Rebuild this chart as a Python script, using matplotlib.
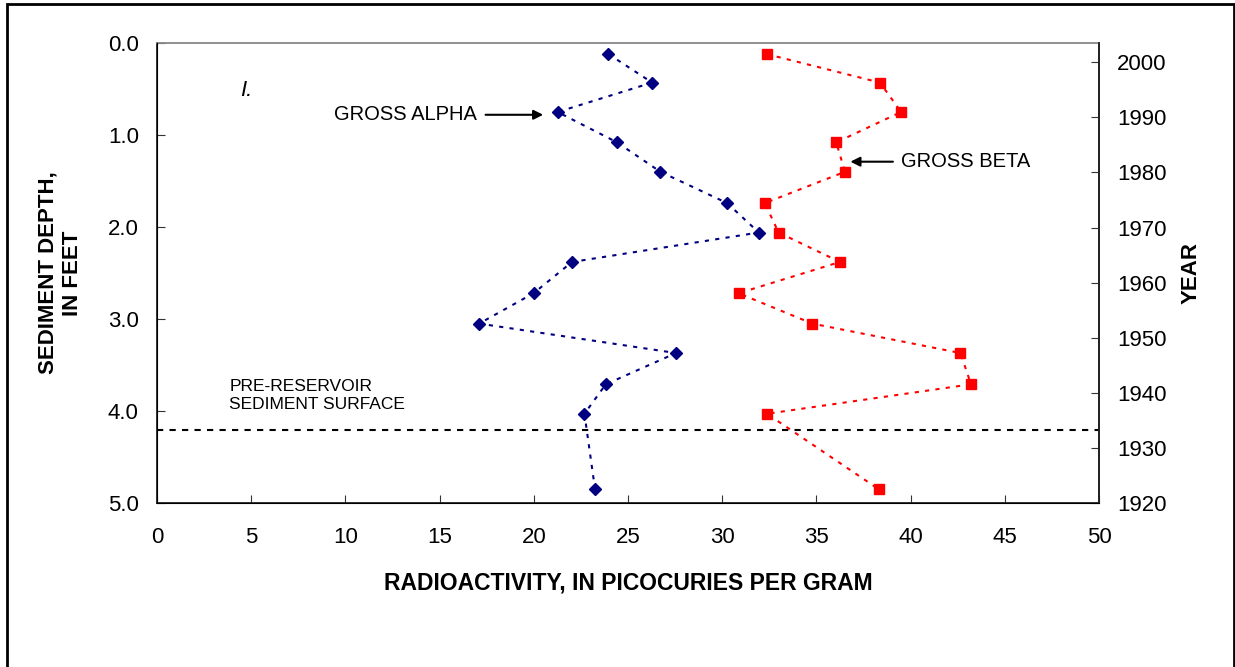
import numpy as np
import matplotlib
matplotlib.use("Agg")
import matplotlib.pyplot as plt
from matplotlib.patches import Rectangle

plt.rcParams['font.family'] = ['Liberation Sans', 'DejaVu Sans']

# depth of each sample, in feet
depth = [0.12, 0.43, 0.75, 1.08, 1.40, 1.74, 2.06, 2.38, 2.72, 3.05, 3.37, 3.71, 4.03, 4.85]
gross_alpha = [23.96, 26.28, 21.27, 24.42, 26.72, 30.26, 31.94, 22.03, 19.99, 17.10, 27.55, 23.82, 22.69, 23.25]
gross_beta = [32.35, 38.37, 39.49, 36.05, 36.51, 32.26, 32.99, 36.25, 30.87, 34.78, 42.64, 43.20, 32.37, 38.30]
pre_reservoir_depth = 4.21

x_ticks = list(range(0, 55, 5))
depth_ticks = [0.0, 1.0, 2.0, 3.0, 4.0, 5.0]
year_ticks = list(range(1920, 2010, 10))

fig = plt.figure(figsize=(12.35, 6.67), dpi=100)
ax = fig.add_axes([0.127, 0.2459, 0.763, 0.6896])

ax.plot(gross_alpha, depth, color='#000080', linestyle=(0, (2, 3)), lw=1.5,
        marker='D', markersize=6.5, zorder=3)
ax.plot(gross_beta, depth, color='#ff0000', linestyle=(0, (2, 3)), lw=1.5,
        marker='s', markersize=7.5, zorder=3)
ax.axhline(pre_reservoir_depth, color='black', linestyle=(0, (3, 3)), lw=1.5)

ax.set_xlim(0, 50)
ax.set_ylim(5.0, 0.0)
ax.set_xticks(x_ticks)
ax.set_yticks(depth_ticks)
ax.set_yticklabels(['%.1f' % d for d in depth_ticks])
ax.tick_params(axis='both', direction='in', length=6, labelsize=16, color='#333333')
ax.tick_params(axis='x', pad=17)
ax.tick_params(axis='y', pad=13)

ax.spines['top'].set_color('#888888')
for s in ['left', 'bottom', 'right']:
    ax.spines[s].set_color('#222222')
for s in ax.spines.values():
    s.set_linewidth(1.3)

ax.set_xlabel('RADIOACTIVITY, IN PICOCURIES PER GRAM', fontsize=16.5, fontweight='bold', labelpad=17)
ax.set_ylabel('SEDIMENT DEPTH,\nIN FEET', fontsize=16, fontweight='bold', labelpad=18, linespacing=1.2)

ax2 = ax.twinx()
ax2.set_ylim(1920, 2003.5)
ax2.set_yticks(year_ticks)
ax2.tick_params(axis='y', direction='in', length=6, labelsize=16, pad=13, color='#333333')
ax2.spines['top'].set_visible(False)
ax2.spines['right'].set_color('#222222')
ax2.spines['right'].set_linewidth(1.3)
ax2.set_ylabel('YEAR', fontsize=16, fontweight='bold', labelpad=10)

ax.text(4.4, 0.52, 'I.', fontsize=16, fontstyle='italic', ha='left', va='center')
ax.annotate('GROSS ALPHA', xy=(20.5, 0.78), xytext=(17.0, 0.78), fontsize=14.5,
            ha='right', va='center',
            arrowprops=dict(arrowstyle='-|>', color='black', lw=1.5, mutation_scale=14, shrinkA=4, shrinkB=0))
ax.annotate('GROSS BETA', xy=(36.8, 1.29), xytext=(39.5, 1.29), fontsize=14.5,
            ha='left', va='center',
            arrowprops=dict(arrowstyle='-|>', color='black', lw=1.5, mutation_scale=14, shrinkA=4, shrinkB=0))
ax.text(3.85, 3.83, 'PRE-RESERVOIR\nSEDIMENT SURFACE', fontsize=12.5, ha='left', va='center', linespacing=1.3)

fig.patches.append(Rectangle((7 / 1235, -0.05), 1227 / 1235, 1.05 - 4 / 667,
                             transform=fig.transFigure, fill=False, edgecolor='black', lw=2))

fig.savefig('out.png', dpi=100)
